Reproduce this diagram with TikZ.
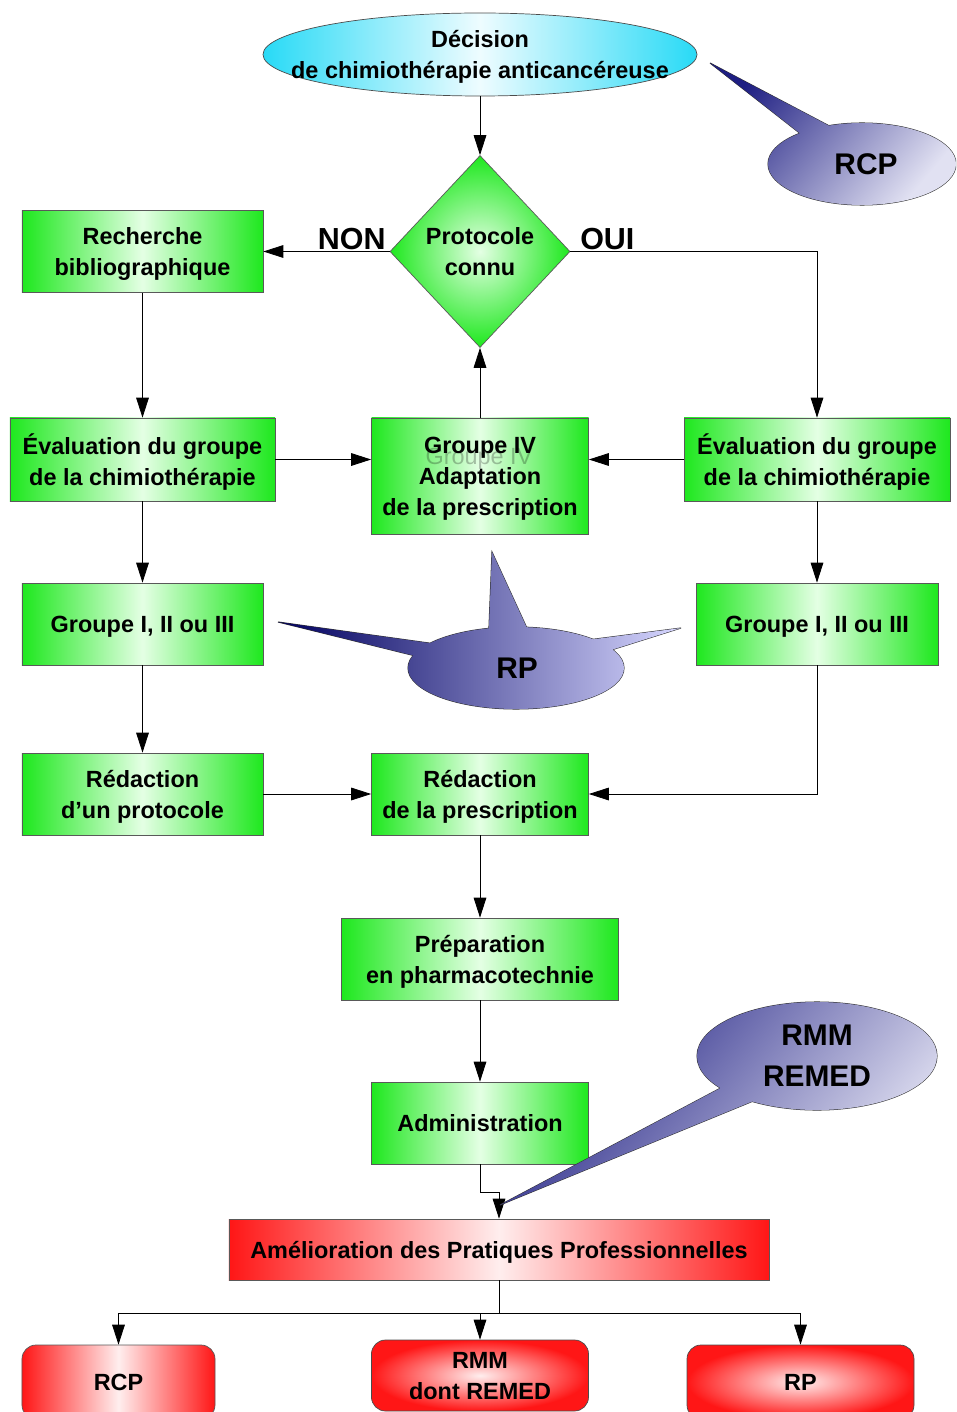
\documentclass[tikz,border=0pt]{standalone}
\usepackage{fontspec}
\setmainfont{Liberation Sans}
\usepackage{tikz}
\usetikzlibrary{shapes.geometric}
\usetikzlibrary{arrows.meta}
\definecolor{boxgreen}{RGB}{30,232,30}
\definecolor{boxpale}{RGB}{228,255,228}
\definecolor{boxred}{RGB}{255,22,22}
\definecolor{redpale}{RGB}{255,238,238}
\definecolor{deccyan}{RGB}{40,218,246}
\definecolor{decpale}{RGB}{238,252,255}
\definecolor{bubdark}{RGB}{30,30,130}
\definecolor{bublight}{RGB}{225,225,242}
\definecolor{rpdark}{RGB}{0,0,95}
\definecolor{rplight}{RGB}{215,215,255}
\tikzset{
    flow/.style={draw=black, line width=0.7pt, -{Triangle[length=0.6cm,width=0.38cm]}},
    green box/.style={rectangle, draw=black!65, line width=0.6pt, left color=boxgreen, right color=boxgreen, middle color=boxpale, align=center, inner sep=0pt, text depth=0pt},
    red box/.style={rectangle, draw=black!65, line width=0.6pt, left color=boxred, right color=boxred, middle color=redpale, align=center, inner sep=0pt, text depth=0pt},
    red round/.style={rectangle, rounded corners=0.42cm, draw=black!70, line width=0.6pt, inner color=redpale, outer color=boxred, align=center, inner sep=0pt, text depth=0pt},
    decision shape/.style={ellipse, draw=black!70, line width=0.6pt, left color=deccyan, right color=deccyan, middle color=decpale, inner sep=0pt},
    test shape/.style={diamond, draw=black!65, line width=0.6pt, inner color=boxpale, outer color=boxgreen, inner sep=0pt},
    bubble/.style={draw=black!80, line width=0.9pt, top color=bubdark, bottom color=bublight, shading angle=50,
        postaction={top color=bubdark, bottom color=bublight, shading angle=50}},
    rp bubble/.style={draw=black!80, line width=0.9pt, left color=rpdark, right color=rplight,
        postaction={left color=rpdark, right color=rplight}},
    bubble text/.style={font=\fontsize{25.5}{35}\selectfont\bfseries, align=center},
    answer/.style={font=\fontsize{26}{30}\selectfont\bfseries, inner sep=1pt}
}

\begin{document}
\begin{tikzpicture}[x=0.03cm, y=-0.03cm, font=\fontsize{20}{26.5}\selectfont\bfseries]
    \useasboundingbox (0,0) rectangle (956,1412);
    \clip (0,0) rectangle (956,1412);

    % decision and test
    \node (decision) [decision shape, minimum width=13.02cm, minimum height=2.49cm,
        label={[name=decisiontext, align=center, text depth=0pt]center:{Décision\\de chimiothérapie anticancéreuse}}] at (480,54.5) {};
    \node (proto) [test shape, minimum width=5.4cm, minimum height=5.76cm,
        label={[name=prototext, align=center]center:{Protocole\\connu}}] at (480,251.5) {};

    % boxes
    \node (biblio) [green box, minimum width=7.23cm, minimum height=2.46cm] at (142.5,251.5) {Recherche\\bibliographique};
    \node (evalL) [green box, minimum width=7.95cm, minimum height=2.49cm] at (142.5,459.5) {Évaluation du groupe\\de la chimiothérapie};
    \node (grp4) [green box, minimum width=6.51cm, minimum height=3.48cm] at (480,476) {Groupe IV\\Adaptation\\de la prescription};
    \node (grp4ghost) [font=\fontsize{20}{24}\selectfont, text=black, text opacity=0.25, inner sep=0pt] at (479,459) {Groupe IV};
    \node (evalR) [green box, minimum width=7.98cm, minimum height=2.49cm] at (817,459.5) {Évaluation du groupe\\de la chimiothérapie};
    \node (grpL) [green box, minimum width=7.23cm, minimum height=2.46cm] at (142.5,624) {Groupe I, II ou III};
    \node (grpR) [green box, minimum width=7.26cm, minimum height=2.46cm] at (817,624) {Groupe I, II ou III};
    \node (redacL) [green box, minimum width=7.23cm, minimum height=2.46cm] at (142.5,794) {Rédaction\\d'un protocole};
    \node (redacP) [green box, minimum width=6.51cm, minimum height=2.46cm] at (480,794) {Rédaction\\de la prescription};
    \node (prep) [green box, minimum width=8.31cm, minimum height=2.46cm] at (480,959) {Préparation\\en pharmacotechnie};
    \node (admin) [green box, minimum width=6.51cm, minimum height=2.46cm] at (480,1123) {Administration};
    \node (amelio) [red box, minimum width=16.2cm, minimum height=1.83cm] at (499,1249.5) {Amélioration des Pratiques Professionnelles};
    \node (rcp) [red box, rounded corners=0.42cm, minimum width=5.79cm, minimum height=2.22cm] at (118.5,1382) {RCP};
    \node (remed) [red round, minimum width=6.51cm, minimum height=2.13cm] at (480,1375.5) {RMM\\dont REMED};
    \node (rp) [red round, minimum width=6.81cm, minimum height=2.22cm] at (800.5,1382) {RP};

    % connectors
    \draw[flow] (decision) -- (proto);
    \draw[flow] (proto) -- node (non) [answer, above, pos=0.3] {NON} (biblio);
    \draw[flow] (proto) -| node (oui) [answer, above, pos=0.075] {OUI} (evalR);
    \draw[flow] (biblio) -- (evalL);
    \draw[flow] (evalL) -- (evalL -| grp4.west);
    \draw[flow] (evalR) -- (evalR -| grp4.east);
    \draw[flow] (grp4) -- (proto);
    \draw[flow] (evalL) -- (grpL);
    \draw[flow] (evalR) -- (grpR);
    \draw[flow] (grpL) -- (redacL);
    \draw[flow] (grpR) |- (redacP);
    \draw[flow] (redacL) -- (redacP);
    \draw[flow] (redacP) -- (prep);
    \draw[flow] (prep) -- (admin);
    \draw[flow] (admin.south) -- ++(0,28) -| (amelio);
    \draw[flow] (amelio.south) -- ++(0,33) -| (rcp);
    \draw[flow] (amelio.south) -- ++(0,33) -| (remed);
    \draw[flow] (amelio.south) -- ++(0,33) -| (rp);

    % callouts
    \path[bubble] (710,63) -- (856,140) -- (820,149) -- cycle
        (862,164) ellipse [x radius=94, y radius=41];
    \node (rcpnote) [bubble text] at (866,164) {RCP};
    \path[rp bubble] (278,622) -- (472,649) -- (452,665) -- cycle
        (492,552) -- (537,650) -- (488,651) -- cycle
        (681,628) -- (589,657) -- (572,642) -- cycle
        (516,668) ellipse [x radius=108, y radius=41];
    \node (rpnote) [bubble text] at (517,668) {RP};
    \path[bubble] (500,1205) -- (764,1065) -- (802,1081) -- cycle
        (817,1056) ellipse [x radius=120, y radius=54];
    \node (rmmnote) [bubble text] at (817,1056) {RMM\\REMED};
\end{tikzpicture}
\end{document}
